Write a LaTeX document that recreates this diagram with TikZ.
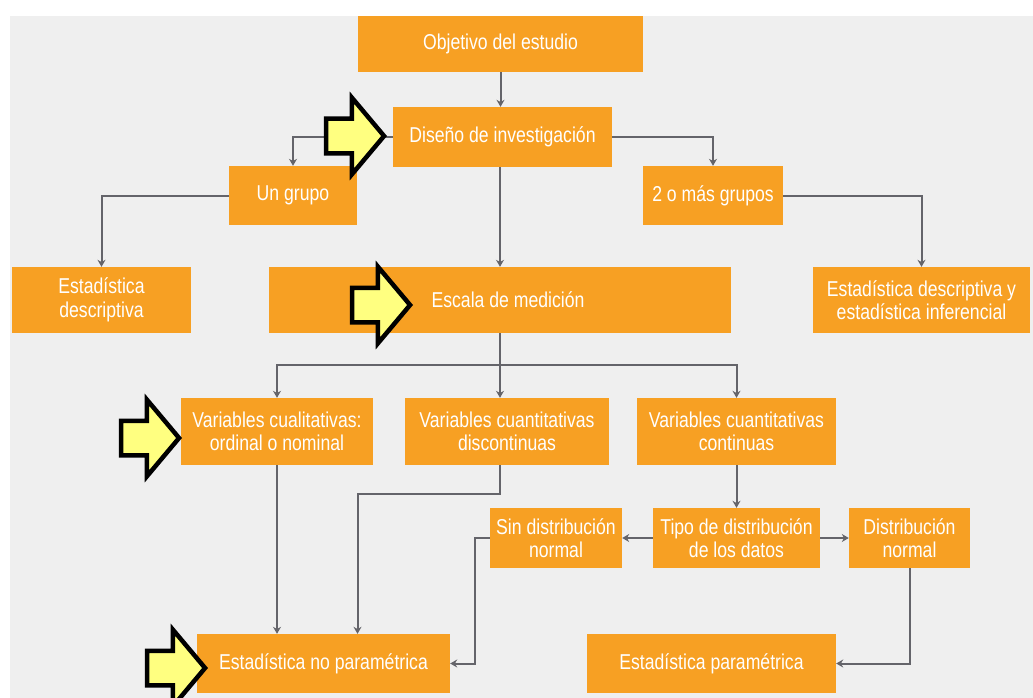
\documentclass[tikz,border=0pt]{standalone}
\usepackage{fontspec}
\setmainfont{Liberation Sans}[FakeStretch=0.82]
\usetikzlibrary{arrows.meta,shapes.arrows}
\definecolor{panel}{RGB}{239,239,239}
\definecolor{boxorange}{RGB}{247,160,35}
\definecolor{linkgray}{RGB}{100,100,106}
\definecolor{hintyellow}{RGB}{255,255,128}

\begin{document}
\begin{tikzpicture}[x=1pt,y=-1pt,
		box/.style={fill=boxorange,text=white,align=center,inner sep=0pt,font=\fontsize{21.5}{23.5}\selectfont},
		link/.style={draw=linkgray,line width=2pt,-{Stealth[length=7pt,width=8pt]}},
		wire/.style={draw=linkgray,line width=2pt},
		hint/.style={single arrow,draw=black,line width=4.5pt,fill=hintyellow,inner xsep=0pt,inner ysep=15pt,minimum height=58pt,single arrow head extend=21pt,single arrow tip angle=100,anchor=tip}]
		\useasboundingbox (0,0) rectangle (1033,698);
		\fill[white] (0,0) rectangle (1033,698);
		\fill[panel] (10,16) rectangle (1033,698);
		
		\node[box,minimum width=285pt,minimum height=56pt] (obj) at (500.5,44) {Objetivo del estudio};
		\node[box,minimum width=219pt,minimum height=60pt] (dis) at (502.5,137) {Diseño de investigación};
		\node[box,minimum width=128pt,minimum height=59pt] (ung) at (293,195.5) {Un grupo};
		\node[box,minimum width=140pt,minimum height=59pt] (dos) at (713,195.5) {2 o más grupos};
		
		\node[box,minimum width=179pt,minimum height=66pt] (edes) at (101.5,300) {Estadística\\descriptiva};
		\node[box,minimum width=462pt,minimum height=66pt] (esc) at (500,300) {\hspace{16pt}Escala de medición};
		\node[box,minimum width=217pt,minimum height=66pt] (edi) at (921.5,300) {Estadística descriptiva y\\estadística inferencial};
		
		\node[box,minimum width=192pt,minimum height=67pt] (vcual) at (277,431.5) {Variables cualitativas:\\ordinal o nominal};
		\node[box,minimum width=204pt,minimum height=67pt] (vdis) at (507,431.5) {Variables cuantitativas\\discontinuas};
		\node[box,minimum width=199pt,minimum height=67pt] (vcon) at (736.5,431.5) {Variables cuantitativas\\continuas};
		
		\node[box,minimum width=132pt,minimum height=60pt] (sind) at (556,538) {Sin distribución\\normal};
		\node[box,minimum width=167pt,minimum height=60pt] (tipo) at (736.5,538) {Tipo de distribución\\de los datos};
		\node[box,minimum width=121pt,minimum height=60pt] (dnor) at (909.5,538) {Distribución\\normal};
		
		\node[box,minimum width=253pt,minimum height=59pt] (enp) at (323.5,663.5) {Estadística no paramétrica};
		\node[box,minimum width=249pt,minimum height=59pt] (ep) at (711.5,663.5) {Estadística paramétrica};
		
		\draw[link] (obj.south) -- (obj.south |- dis.north);
		\draw[link] (dis.west) -| (ung.north);
		\draw[link] (dis.east) -| (dos.north);
		\draw[link] (esc.north |- dis.south) -- (esc.north);
		\draw[link] (ung.west) -| (edes.north);
		\draw[link] (dos.east) -| (edi.north);
		
		\draw[wire] (esc.south) -- ++(0,32) coordinate (bus);
		\draw[link] (bus) -| (vcual.north);
		\draw[link] (bus) -| (vcon.north);
		\draw[link] (bus) -- (bus |- vdis.north);
		
		\draw[link] (vcual.south) -- (vcual.south |- enp.north);
		\draw[link] (vdis.south -| bus) -- ++(0,29) -| ([xshift=34pt]enp.north);
		\draw[link] (sind.west) -- ++(-15,0) |- (enp.east);
		\draw[link] (vcon.south) -- (tipo.north);
		\draw[link] (tipo.west) -- (sind.east);
		\draw[link] (tipo.east) -- (dnor.west);
		\draw[link] (dnor.south) |- (ep.east);
		
		\node[hint] (hdis) at (387,136) {};
		\node[hint] (hesc) at (413,305) {};
		\node[hint] (hcual) at (182,438) {};
		\node[hint] (henp) at (208,668) {};
		
	\end{tikzpicture}
\end{document}
